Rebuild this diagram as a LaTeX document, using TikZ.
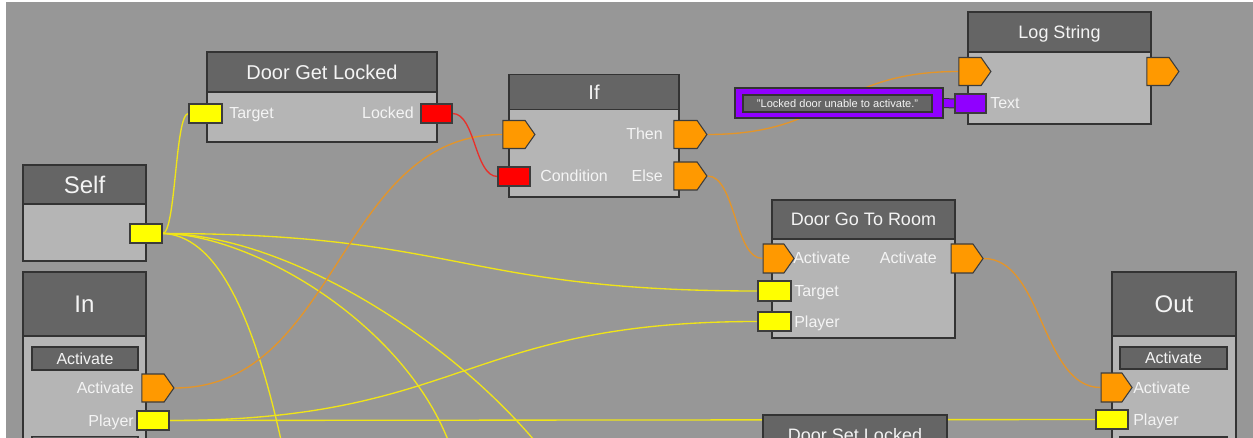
\documentclass[tikz,border=0pt]{standalone}
\usepackage{fontspec}
\setmainfont{Liberation Sans}
\usetikzlibrary{shapes.symbols}
\newdimen\pxu \pxu=0.75pt
\newcommand\fsz[1]{\fontsize{#1}{#1}\selectfont}
\definecolor{bgc}{HTML}{979797}
\definecolor{headc}{HTML}{656565}
\definecolor{bodyc}{HTML}{B5B5B5}
\definecolor{bordc}{HTML}{333333}
\definecolor{portb}{HTML}{3C3C3C}
\definecolor{yelp}{HTML}{FFFF00}
\definecolor{redp}{HTML}{FF0000}
\definecolor{orp}{HTML}{FF9900}
\definecolor{purp}{HTML}{9000FF}
\definecolor{wyc}{HTML}{F0E418}
\definecolor{woc}{HTML}{E3952A}
\definecolor{wrc}{HTML}{E8302A}
\definecolor{txtc}{HTML}{F4F4F4}
\pgfdeclarelayer{bgl}
\pgfdeclarelayer{conn}
\pgfsetlayers{bgl,conn,main}
\begin{document}
\begin{tikzpicture}[x=0.75pt,y=-0.75pt,
  head/.style={draw=bordc, fill=headc, line width=1.1pt, inner sep=0pt, text=txtc, text depth=0pt},
  t18/.style={font=\fsz{18}, text height=12.9pt},
  t15/.style={font=\fsz{15}, text height=10.74pt},
  t135/.style={font=\fsz{13.5}, text height=9.67pt},
  body/.style={draw=bordc, fill=bodyc, line width=1.1pt, inner sep=0pt},
  ibox/.style={draw=bordc, fill=headc, line width=0.9pt, inner sep=0pt, text=txtc, font=\fsz{12}, text height=8.6pt, text depth=0pt},
  dport/.style={draw=portb, line width=0.8pt, minimum width=32\pxu, minimum height=19\pxu, inner sep=0pt},
  eport/.style={shape=signal, signal to=east, signal pointer angle=110, draw=portb, fill=orp, line width=0.8pt, minimum width=32\pxu, minimum height=28\pxu, inner sep=0pt},
  lbl/.style={inner sep=0pt, text=txtc, font=\fsz{12}},
  wy/.style={draw=wyc, line width=1pt},
  wo/.style={draw=woc, line width=1pt},
  wr/.style={draw=wrc, line width=1pt}]
\useasboundingbox (0,0) rectangle (1253,438);
\begin{pgfonlayer}{bgl}
\fill[white] (0,0) rectangle (1253,438);
\fill[bgc] (6,2) rectangle (1253,438);
\end{pgfonlayer}

% ---------- Self
\node[body, minimum width=123\pxu, minimum height=57\pxu] (selfb) at (84.5,232.5) {};
\node[head, t18, minimum width=123\pxu, minimum height=39\pxu] (self) at (84.5,184.5) {Self};
\node[dport, fill=yelp] (self-p) at (146,233.5) {};

% ---------- In
\node[body, minimum width=123\pxu, minimum height=134\pxu] (inb) at (84.5,403) {};
\node[head, t18, minimum width=123\pxu, minimum height=64\pxu] (in) at (84.5,304) {In};
\node[ibox, minimum width=106\pxu, minimum height=23\pxu] (in-act) at (85,358.5) {Activate};
\node[ibox, minimum width=106\pxu, minimum height=23\pxu] (in-more) at (85,448) {};
\node[eport] (in-a) at (153,388) {};
\node[dport, fill=yelp] (in-p) at (153,420.5) {};
\node[lbl, anchor=base east] (in-al) at (134,393.5) {Activate};
\node[lbl, anchor=base east] (in-pl) at (134,426) {Player};

% ---------- Door Get Locked
\node[body, minimum width=230\pxu, minimum height=50\pxu] (dglb) at (322,117) {};
\node[head, t15, minimum width=230\pxu, minimum height=40\pxu] (dgl) at (322,72) {Door Get Locked};
\node[dport, fill=yelp, minimum width=33\pxu] (dgl-t) at (205.5,113.5) {};
\node[dport, fill=redp, minimum width=31\pxu] (dgl-l) at (436.5,113.5) {};
\node[lbl, anchor=base west] (dgl-tl) at (229,119) {Target};
\node[lbl, anchor=base east] (dgl-ll) at (414,119) {Locked};

% ---------- If
\node[body, minimum width=170\pxu, minimum height=88\pxu] (ifb) at (594,153) {};
\node[head, t15, minimum width=170\pxu, minimum height=35\pxu] (if) at (594,92) {If};
\node[eport] (if-in) at (514,134.5) {};
\node[dport, fill=redp] (if-c) at (514,176.5) {};
\node[eport, minimum width=33\pxu] (if-then) at (685.5,134.5) {};
\node[eport, minimum width=33\pxu] (if-else) at (685.5,176) {};
\node[lbl, anchor=base east] (if-tl) at (663,140) {Then};
\node[lbl, anchor=base east] (if-el) at (663,182) {Else};
\node[lbl, anchor=base west] (if-cl) at (540,182) {Condition};

% ---------- Log String
\node[body, minimum width=183\pxu, minimum height=72\pxu] (lsb) at (1059.5,88) {};
\node[head, t135, minimum width=183\pxu, minimum height=40\pxu] (ls) at (1059.5,32) {Log String};
\node[eport] (ls-in) at (970,71.5) {};
\node[eport] (ls-out) at (1158,71.5) {};
\node[dport, fill=purp, minimum width=31\pxu] (ls-text) at (970.5,103.5) {};
\node[lbl, anchor=base west] (ls-tl) at (990,109) {Text};

% ---------- string constant
\node[draw=bordc, fill=purp, line width=0.9pt, minimum width=208\pxu, minimum height=30\pxu, inner sep=0pt] (str) at (839,103) {};
\node[draw=bordc, fill=headc, line width=0.8pt, minimum width=189\pxu, minimum height=17\pxu, inner sep=0pt, text=txtc, font=\fsz{8.3}, text height=5.95pt, text depth=0pt] (str-t) at (837.5,103.5) {"Locked door unable to activate."};

% ---------- Door Go To Room
\node[body, minimum width=183\pxu, minimum height=99\pxu] (dgb) at (863.5,288.5) {};
\node[head, t135, minimum width=183\pxu, minimum height=39\pxu] (dg) at (863.5,219.5) {Door Go To Room};
\node[eport, minimum width=31\pxu, minimum height=29\pxu] (dg-ain) at (773.5,258.5) {};
\node[dport, fill=yelp, minimum width=33\pxu, minimum height=20\pxu] (dg-t) at (774.5,291) {};
\node[dport, fill=yelp, minimum width=33\pxu] (dg-p) at (774.5,321.5) {};
\node[eport, minimum height=29\pxu] (dg-aout) at (962,258.5) {};
\node[lbl, anchor=base west] (dg-al) at (793,264) {Activate};
\node[lbl, anchor=base west] (dg-tl) at (794,296.5) {Target};
\node[lbl, anchor=base west] (dg-pl) at (794,327) {Player};
\node[lbl, anchor=base east] (dg-aol) at (937,264) {Activate};

% ---------- Out
\node[body, minimum width=124\pxu, minimum height=134\pxu] (outb) at (1174,403) {};
\node[head, t18, minimum width=124\pxu, minimum height=64\pxu] (out) at (1174,304) {Out};
\node[ibox, minimum width=107\pxu, minimum height=22\pxu] (out-act) at (1173.5,358) {Activate};
\node[ibox, minimum width=107\pxu, minimum height=22\pxu] (out-more) at (1173.5,448) {};
\node[eport, minimum width=31\pxu, minimum height=29\pxu] (out-a) at (1111.5,387.5) {};
\node[dport, fill=yelp] (out-p) at (1112,419.5) {};
\node[lbl, anchor=base west] (out-al) at (1133,393) {Activate};
\node[lbl, anchor=base west] (out-pl) at (1133,425) {Player};

% ---------- Door Set Locked (cut by the lower edge, as in the view)
\node[head, t135, minimum width=184\pxu, minimum height=40\pxu] (dsl) at (855,435) {Door Set Locked};

% ---------- free ends of connectors leaving the view
\coordinate (ea) at (281,440);
\coordinate (eb) at (448,440);
\coordinate (ec) at (534,440);

% ---------- connectors
\begin{pgfonlayer}{conn}
\draw[wy] (self-p.east) .. controls +(13.5,0) and +(-13.5,0) .. (dgl-t.west);
\draw[wy] (self-p.east) .. controls +(298,0) and +(-298,0) .. (dg-t.west);
\draw[wy] (self-p.east) .. controls (215,235) and (252,310) .. (ea);
\draw[wy] (self-p.east) .. controls (250,234) and (400,320) .. (eb);
\draw[wy] (self-p.east) .. controls (280,234) and (440,330) .. (ec);
\draw[wy] (in-p.east) -- (out-p.west);
\draw[wy] (in-p.east) .. controls +(294.5,0) and +(-294.5,0) .. (dg-p.west);
\draw[wo] (in-a.east) .. controls +(164.5,0) and +(-164.5,0) .. (if-in.west);
\draw[wr] (dgl-l.east) .. controls +(23,0) and +(-23,0) .. (if-c.west);
\draw[wo] (if-then.east) .. controls +(126,0) and +(-126,0) .. (ls-in.west);
\draw[wo] (if-else.east) .. controls +(28,0) and +(-28,0) .. (dg-ain.west);
\draw[wo] (dg-aout.east) .. controls +(59,0) and +(-59,0) .. (out-a.west);
\draw[line width=7.5pt, draw=bordc] (str.east) -- (ls-text.west);
\draw[line width=6pt, draw=purp] (str.east) -- (ls-text.west);
\end{pgfonlayer}
\end{tikzpicture}
\end{document}
